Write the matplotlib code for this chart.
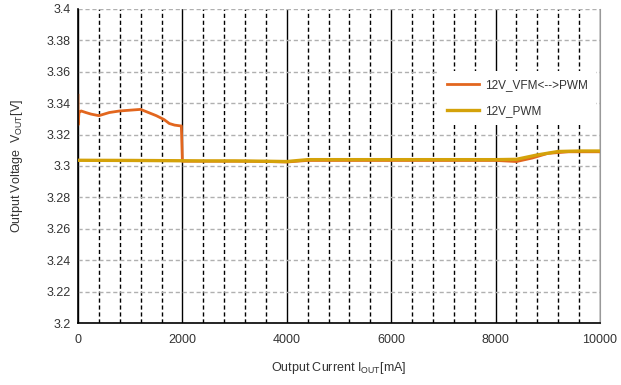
import matplotlib
matplotlib.use("Agg")
import matplotlib.pyplot as plt
from matplotlib.ticker import MultipleLocator

plt.rcParams['font.family'] = ['Liberation Sans', 'DejaVu Sans']

# Data
vfm_x = [0, 0, 20, 60, 150, 250, 400, 600, 800, 1000, 1200, 1350, 1500, 1650, 1750, 1850, 1960, 1980, 2000,
         2400, 2800, 3200, 3600, 4000, 4400, 5000, 6000, 7000, 8000, 8400, 8700, 9000, 9400, 10000]
vfm_y = [3.345, 3.326, 3.334, 3.335, 3.334, 3.333, 3.332, 3.334, 3.335, 3.3355, 3.336, 3.334, 3.332, 3.3295, 3.327, 3.326, 3.3255, 3.3255, 3.303,
         3.303, 3.303, 3.303, 3.3028, 3.3025, 3.3035, 3.3035, 3.3035, 3.3035, 3.3035, 3.3028, 3.305, 3.308, 3.309, 3.309]

pwm_x = [0, 1000, 2000, 2400, 3000, 3600, 4000, 4400, 5000, 6000, 7000, 8000, 8400, 8800, 9200, 9600, 10000]
pwm_y = [3.3036, 3.3035, 3.3033, 3.3032, 3.3032, 3.303, 3.3028, 3.304, 3.304, 3.304, 3.304, 3.304, 3.3042, 3.307, 3.3092, 3.3095, 3.3095]

series_labels = ["12V_VFM<-->PWM", "12V_PWM"]

fig = plt.figure(figsize=(6.21, 3.85), dpi=100)
ax = fig.add_axes([0.1256, 0.161, 0.8405, 0.816])

ax.plot(vfm_x, vfm_y, color='#E2661E', lw=2.0, label=series_labels[0], zorder=2)
ax.plot(pwm_x, pwm_y, color='#D4A20A', lw=2.4, label=series_labels[1], zorder=3)

ax.set_xlim(0, 10000)
ax.set_ylim(3.2, 3.4)
ax.xaxis.set_major_locator(MultipleLocator(2000))
ax.xaxis.set_minor_locator(MultipleLocator(400))
ax.yaxis.set_major_locator(MultipleLocator(0.02))
ax.set_yticklabels([f"{v:g}" for v in ax.get_yticks()])

ax.grid(which='major', axis='x', color='black', lw=1.0, ls='-')
ax.grid(which='minor', axis='x', color='black', lw=1.0, ls=(0, (3, 2)))
ax.grid(which='major', axis='y', color='#b0b0b0', lw=1.0, ls=(0, (3, 2)))
ax.set_axisbelow(True)

ax.tick_params(which='both', length=0, labelsize=9, colors='#333333', pad=5)
ax.tick_params(axis='x', pad=8)

ax.spines['top'].set_visible(False)
ax.spines['right'].set_color('#999999')
ax.spines['left'].set_color('black')
ax.spines['bottom'].set_color('black')
ax.spines['left'].set_linewidth(1.2)
ax.spines['bottom'].set_linewidth(1.2)

ax.set_xlabel("Output Current I$_\\mathregular{OUT}$[mA]", fontsize=9, color='#333333', labelpad=10)
ax.set_ylabel("Output Voltage  V$_\\mathregular{OUT}$[V]", fontsize=9, color='#333333', labelpad=16)

handles, labels = ax.get_legend_handles_labels()
leg = ax.legend(handles, labels, loc='upper left', bbox_to_anchor=(0.680, 0.822), frameon=True, fontsize=8.5,
                handlelength=2.7, labelspacing=1.2, borderpad=0.7, handletextpad=0.5)
leg.get_frame().set_edgecolor('none')
leg.get_frame().set_facecolor('white')
leg.get_frame().set_alpha(1)
leg.get_frame().set_boxstyle('square', pad=0)
leg.set_zorder(5)
for t in leg.get_texts():
    t.set_color('#333333')

fig.savefig("out.png", dpi=100)
